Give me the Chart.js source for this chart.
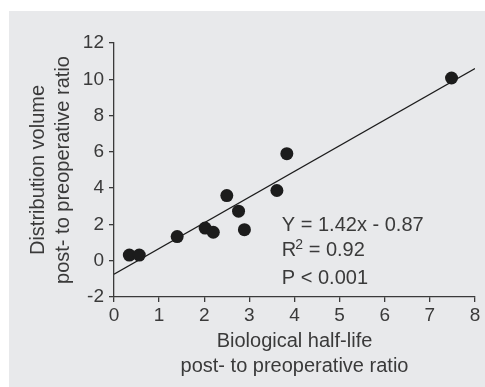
<!DOCTYPE html>
<html>
<head>
<meta charset="utf-8">
<script src="https://cdn.jsdelivr.net/npm/chart.js@4.4.0/dist/chart.umd.min.js"></script>
<style>
  body { margin: 0; background: #fff; }
  #wrap { width: 485px; height: 387px; }
</style>
</head>
<body>
<div id="wrap"><canvas id="myChart" width="485" height="387"></canvas></div>
<script>
// values
var halfLife = [0.34, 0.56, 1.40, 2.02, 2.20, 2.50, 2.76, 2.89, 3.61, 3.83, 7.48];
var distVolume = [0.31, 0.31, 1.33, 1.80, 1.57, 3.59, 2.73, 1.71, 3.87, 5.90, 10.07];

// fitted line, ends as drawn
var fitX = [0, 8];
var fitY = [-0.74, 10.59];

var xTicks = [0, 1, 2, 3, 4, 5, 6, 7, 8];
var yTicks = [-2, 0, 2, 4, 6, 8, 10, 12];

var eqAnchor = { x: 3.72, y: 1.64 };

var ink = '#3a3a3a';
var fontFam = "'Liberation Sans', Arial, Helvetica, sans-serif";

var points = halfLife.map(function (v, i) { return { x: v, y: distVolume[i] }; });
var fitLine = fitX.map(function (v, i) { return { x: v, y: fitY[i] }; });

var panelBg = {
    id: 'panelBg',
    beforeDraw: function (chart) {
        var ctx = chart.ctx;
        ctx.save();
        ctx.fillStyle = '#e8e9eb';
        ctx.fillRect(9, 11, chart.width - 9, chart.height - 11);
        ctx.restore();
    }
};

var equation = {
    id: 'equation',
    afterDraw: function (chart) {
        var ctx = chart.ctx;
        var x0 = chart.scales.x.getPixelForValue(eqAnchor.x);
        var y0 = chart.scales.y.getPixelForValue(eqAnchor.y);
        ctx.save();
        ctx.fillStyle = ink;
        ctx.textBaseline = 'alphabetic';
        ctx.textAlign = 'left';
        ctx.font = '20px ' + fontFam;
        ctx.fillText('Y = 1.42x - 0.87', x0, y0);
        // R squared with superscript
        ctx.fillText('R', x0, y0 + 25);
        var w = ctx.measureText('R').width;
        ctx.font = '14px ' + fontFam;
        ctx.fillText('2', x0 + w - 1, y0 + 25 - 7);
        var w2 = ctx.measureText('2').width;
        ctx.font = '20px ' + fontFam;
        ctx.fillText(' = 0.92', x0 + w - 1 + w2, y0 + 25);
        ctx.fillText('P < 0.001', x0, y0 + 53);
        ctx.restore();
    }
};

var ctx = document.getElementById('myChart').getContext('2d');

var myChart = new Chart(ctx, {
    type: 'scatter',
    data: {
        datasets: [{
            label: 'Patients',
            data: points,
            backgroundColor: '#1c1c1c',
            borderWidth: 0,
            pointRadius: 6.5,
            pointHoverRadius: 6.5
        },
        {
            type: 'line',
            label: 'Fit',
            data: fitLine,
            borderColor: '#1c1c1c',
            borderWidth: 1.3,
            pointRadius: 0,
            fill: false
        }]
    },
    options: {
        responsive: false,
        animation: false,
        layout: { padding: { top: 43, right: 10, bottom: 0, left: 0 } },
        plugins: {
            legend: { display: false },
            tooltip: { enabled: false }
        },
        scales: {
            x: {
                type: 'linear',
                min: 0,
                max: 8,
                afterBuildTicks: function (axis) {
                    axis.ticks = xTicks.map(function (v) { return { value: v }; });
                },
                afterFit: function (axis) { axis.height = 90; },
                grid: { drawOnChartArea: false, tickLength: 5, color: ink, lineWidth: 1.3 },
                border: { color: ink, width: 1.3 },
                ticks: { color: ink, padding: 2, font: { family: fontFam, size: 19 } },
                title: {
                    display: true,
                    text: ['Biological half-life', 'post- to preoperative ratio'],
                    color: ink,
                    padding: { top: 0, bottom: 8 },
                    font: { family: fontFam, size: 20, lineHeight: 1.24 }
                }
            },
            y: {
                type: 'linear',
                min: -2,
                max: 12,
                afterBuildTicks: function (axis) {
                    axis.ticks = yTicks.map(function (v) { return { value: v }; });
                },
                afterFit: function (axis) { axis.width = 114; },
                grid: { drawOnChartArea: false, tickLength: 5, color: ink, lineWidth: 1.3 },
                border: { color: ink, width: 1.3 },
                ticks: { color: ink, padding: 5, font: { family: fontFam, size: 19 } },
                title: {
                    display: true,
                    text: ['Distribution volume', 'post- to preoperative ratio'],
                    color: ink,
                    padding: { top: 26, bottom: 0 },
                    font: { family: fontFam, size: 20, lineHeight: 1.24 }
                }
            }
        }
    },
    plugins: [panelBg, equation]
});
</script>
</body>
</html>
